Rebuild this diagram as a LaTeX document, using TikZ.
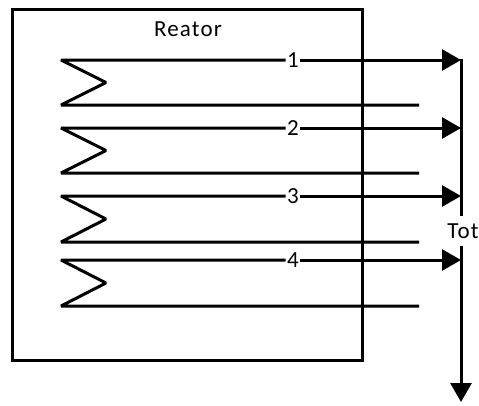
\documentclass[tikz,border=0pt]{standalone}
\usepackage{fontspec}
\setmainfont[LetterSpace=5]{Carlito}
\usetikzlibrary{positioning,calc,arrows.meta}

\begin{document}
\begin{tikzpicture}[x=1pt,y=-1pt,
    line width=3pt,
    txt/.style={font=\fontsize{23}{27}\selectfont,inner sep=1pt},
    num/.style={txt,fill=white,inner xsep=0pt,inner ysep=0pt},
    flow/.style={-{Triangle[length=19pt,width=21pt]}}]
\useasboundingbox (0,0) rectangle (479,405);
\node (reator) [draw,minimum width=350pt,minimum height=351pt,anchor=north west,inner sep=0pt,outer sep=0pt] at (12,9) {};
\node (title) [txt] at (188,29) {Reator};
% coletor
\coordinate (top) at (461,59);
\coordinate (bot) at (461,402);
\node (tot) [txt,fill=white,inner ysep=0pt,minimum height=27pt] at (463,231) {Tot};
\draw (top) -- (top |- tot.north);
\draw[flow] (bot |- tot.south) -- (bot);
% tubos
\foreach \n/\ya/\yb in {1/60/105,2/128/173,3/196/242,4/260/306}{
    \coordinate (a\n) at (61,\ya);
    \coordinate (v\n) at (106,{(\ya+\yb)/2});
    \coordinate (b\n) at (61,\yb);
    \coordinate (e\n) at (419,\yb);
    \coordinate (t\n) at (461,\ya);
    \node (n\n) [num] at (293,\ya) {\n};
    \draw[line join=bevel] (e\n) -- (b\n) -- (v\n) -- (a\n) -- (n\n);
    \draw[flow] (n\n) -- (t\n);
}
\end{tikzpicture}
\end{document}
